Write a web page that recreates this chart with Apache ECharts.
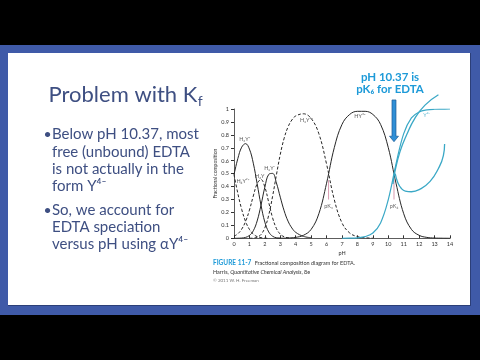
<!DOCTYPE html>
<html><head><meta charset="utf-8">
<script src="https://cdn.jsdelivr.net/npm/echarts@6/dist/echarts.min.js"></script>
<style>html,body{margin:0;padding:0;background:#000}#c{width:480px;height:360px}</style>
</head><body><div id="c"></div>
<script>
// pH grid
const pH = [0,0.25,0.5,0.75,1,1.25,1.5,1.75,2,2.25,2.5,2.75,3,3.25,3.5,3.75,4,4.5,5,5.5,6,6.5,7,7.5,8,8.5,9,9.5,10,10.5,11,11.5,12,12.5,13,13.5,14];
const N = null;
// fractional composition of each EDTA species
const H6Y = [0.492,0.347,0.223,0.130,0.069,0.033,0.013,0.005,0.001,0.0003,N,N,N,N,N,N,N,N,N,N,N,N,N,N,N,N,N,N,N,N,N,N,N,N,N,N,N];
const H5Y = [0.492,0.617,0.705,0.732,0.690,0.581,0.422,0.256,0.125,0.049,0.016,0.004,0.001,N,N,N,N,N,N,N,N,N,N,N,N,N,N,N,N,N,N,N,N,N,N,N,N];
const H4Y = [0.016,0.035,0.071,0.130,0.218,0.327,0.422,0.455,0.396,0.278,0.159,0.076,0.032,0.012,0.004,0.001,N,N,N,N,N,N,N,N,N,N,N,N,N,N,N,N,N,N,N,N,N];
const H3Y = [0.0002,0.0006,0.002,0.007,0.022,0.058,0.134,0.256,0.396,0.494,0.502,0.428,0.318,0.213,0.133,0.080,0.046,0.015,0.0045,N,N,N,N,N,N,N,N,N,N,N,N,N,N,N,N,N,N];
const H2Y = [N,N,N,N,0.0005,0.002,0.009,0.029,0.081,0.179,0.324,0.491,0.649,0.774,0.861,0.915,0.946,0.963,0.927,0.809,0.574,0.299,0.119,0.041,0.013,0.004,0.001,N,N,N,N,N,N,N,N,N,N];
const HY  = [N,N,N,N,N,N,N,N,N,N,N,0.0002,0.0005,0.001,0.002,0.004,0.007,0.023,0.069,0.190,0.426,0.701,0.881,0.958,0.982,0.982,0.958,0.881,0.701,0.426,0.190,0.069,0.023,0.007,0.002,0.0007,0.0002];
const Y4  = [N,N,N,N,N,N,N,N,N,N,N,N,N,N,N,N,N,N,N,N,N,N,0.0004,0.0013,0.004,0.013,0.041,0.119,0.299,0.574,0.810,0.931,0.977,0.993,0.998,0.999,1.0];
// hand-drawn ink strokes on the slide (pH, fraction)
const inkA_x = [10.3,10.43,10.76,11.19,11.73,12.38,13.25];
const inkA_y = [0.42,0.515,0.67,0.80,0.93,1.03,1.11];
const inkB_x = [10.45,10.62,10.85,11.1,11.5,12.06,12.71,13.25,13.57,13.65];
const inkB_y = [0.50,0.43,0.385,0.365,0.36,0.38,0.44,0.54,0.64,0.73];
// pK markers
const pKvals = [6.13, 10.37];
const pKnames = ['pK₅','pK₆'];
const speciesNames = ['H₆Y²⁺','H₅Y⁺','H₄Y','H₃Y⁻','H₂Y²⁻','HY³⁻','Y⁴⁻'];

const pts = a => pH.map((x,i)=>[x,a[i]]).filter(p=>p[1]!=null);
const zip = (xs,ys) => xs.map((x,i)=>[x,ys[i]]);

const BLK = '#262626', INK = '#3aa8c6', PINK = '#d79bb0';
const TXT = '#3e4f82', FONT = 'Lato, "Open Sans", sans-serif';

const chart = echarts.init(document.getElementById('c'));
const lineS = (data, color, dash, w) => ({type:'line', data, smooth:0.4, showSymbol:false, silent:true,
  lineStyle:{color, width:w||1, type: dash ? [3,2] : 'solid'}});

const series = [
  lineS(pts(H6Y), BLK, true),
  lineS(pts(H5Y), BLK, false),
  lineS(pts(H4Y), BLK, true),
  lineS(pts(H3Y), BLK, false),
  lineS(pts(H2Y), BLK, true),
  lineS(pts(HY), BLK, false),
  lineS(pts(Y4), INK, false, 1.2),
];
pKvals.forEach(v => series.push({type:'line', data:[[v,0.45],[v,0.30]], showSymbol:false, silent:true, lineStyle:{color:PINK,width:1}}));
series.push({type:'scatter', symbolSize:0, silent:true,
  data: pKvals.map((v,i)=>[v,0.245,pKnames[i]]),
  label:{show:true, position:'inside', formatter:p=>p.data[2], fontSize:5.5, color:'#444', fontFamily:FONT}});
const labelPos = [[0.58,0.445],[0.7,0.77],[1.67,0.48],[2.32,0.545],[4.7,0.91],[8.16,0.946],[12.5,0.955]];
series.push({type:'scatter', symbolSize:0, silent:true,
  data: speciesNames.map((n,i)=>({value:[labelPos[i][0],labelPos[i][1],n], label:{color: i===6?INK:'#333'}})),
  label:{show:true, position:'inside', formatter:p=>p.data.value[2], fontSize:5.5, fontFamily:FONT}});
series.push({type:'line', data: zip(inkA_x,inkA_y), smooth:0.5, showSymbol:false, silent:true, clip:false, lineStyle:{color:INK,width:1.3}});
series.push({type:'line', data: zip(inkB_x,inkB_y), smooth:0.5, showSymbol:false, silent:true, clip:false, lineStyle:{color:INK,width:1.3}});

const graphic = [
  {type:'rect', z:-10, shape:{x:0,y:45,width:480,height:270}, style:{fill:'#3f5aa8'}},
  {type:'rect', z:-9, shape:{x:8,y:53,width:463,height:253}, style:{fill:'#2c3f78'}},
  {type:'rect', z:-8, shape:{x:8,y:53,width:462,height:252}, style:{fill:'#ffffff'}},
  {type:'text', x:48.5, y:95, style:{text:'Problem with K', font:'22px '+FONT, fill:TXT, verticalAlign:'middle'}},
];
const bullets = [
  [134,'Below pH 10.37, most',true],[151.7,'free (unbound) EDTA'],[169,'is not actually in the'],[186,'form Y⁴⁻'],
  [210,'So, we account for',true],[226.7,'EDTA speciation'],[244.3,'versus pH using αY⁴⁻']
];
bullets.forEach(b => {
  if (b[2]) graphic.push({type:'text', x:43.5, y:b[0], style:{text:'•', font:'14px '+FONT, fill:TXT, verticalAlign:'middle'}});
  graphic.push({type:'text', x:52, y:b[0], style:{text:b[1], font:'15px '+FONT, fill:TXT, verticalAlign:'middle'}});
});
graphic.push({type:'text', x:390, y:77.7, style:{text:'pH 10.37 is', font:'bold 11.5px '+FONT, fill:'#1d9ad8', align:'center', verticalAlign:'middle'}});
graphic.push({type:'text', x:390, y:89.3, style:{text:'pK₆ for EDTA', font:'bold 11.5px '+FONT, fill:'#1d9ad8', align:'center', verticalAlign:'middle'}});
graphic.push({type:'text', x:213, y:263, style:{text:'{a|FIGURE 11-7} {b|Fractional composition diagram for EDTA.}', verticalAlign:'middle',
  rich:{a:{font:'bold 6.5px '+FONT, fill:'#1d9ad8'}, b:{font:'5.5px '+FONT, fill:'#333'}}}});
graphic.push({type:'text', x:213, y:272.7, style:{text:'{b|Harris, }{i|Quantitative Chemical Analysis}{b|, 8e}', verticalAlign:'middle',
  rich:{i:{font:'italic 5.5px '+FONT, fill:'#333'}, b:{font:'5.5px '+FONT, fill:'#333'}}}});
graphic.push({type:'text', x:213, y:280.5, style:{text:'© 2011 W. H. Freeman', font:'4.5px '+FONT, fill:'#777', verticalAlign:'middle'}});

chart.setOption({
  backgroundColor:'#000',
  animation:false,
  grid:{left:234, top:109, width:216, height:129.3},
  xAxis:{type:'value', min:0, max:14, interval:1, name:'pH', nameLocation:'middle', nameGap:12,
    nameTextStyle:{fontSize:5.5, color:'#333', fontFamily:FONT},
    axisLine:{lineStyle:{color:'#333', width:0.8}}, axisTick:{inside:true, length:3, lineStyle:{color:'#333'}},
    axisLabel:{fontSize:5.5, color:'#333', margin:3, fontFamily:FONT}, splitLine:{show:false}},
  yAxis:{type:'value', min:0, max:1, interval:0.1, name:'Fractional composition', nameLocation:'middle', nameGap:13, nameRotate:90,
    nameTextStyle:{fontSize:5, color:'#333', fontFamily:FONT},
    axisLine:{show:true, lineStyle:{color:'#333', width:0.8}}, axisTick:{show:true, length:3, lineStyle:{color:'#333'}},
    axisLabel:{fontSize:5.5, color:'#333', margin:5, fontFamily:FONT, formatter:v=> (v===0?'0':v===1?'1':v.toFixed(1))}, splitLine:{show:false}},
  series, graphic
});

// subscript f of K_f, placed after measured title width
const ctx2 = document.createElement('canvas').getContext('2d');
ctx2.font = '22px ' + FONT;
const tw = ctx2.measureText('Problem with K').width;
// arrow pointing at pK6
const aTop = chart.convertToPixel({gridIndex:0}, [pKvals[1], 1.07]);
const aTip = chart.convertToPixel({gridIndex:0}, [pKvals[1], 0.747]);
const ax = aTop[0], hw = 2, hh = 4.5, hl = 5.5;
chart.setOption({graphic: graphic.concat([
  {type:'text', x:48.5+tw+0.5, y:101.5, style:{text:'f', font:'14px '+FONT, fill:TXT, verticalAlign:'middle'}},
  {type:'polygon', shape:{points:[[ax-hw,aTop[1]],[ax+hw,aTop[1]],[ax+hw,aTip[1]-hl],[ax+hh,aTip[1]-hl],[ax,aTip[1]],[ax-hh,aTip[1]-hl],[ax-hw,aTip[1]-hl]]},
   style:{fill:'#2f8fd6', stroke:'#1e5a94', lineWidth:0.7}, z:10}
])}, {replaceMerge:['graphic']});
</script></body></html>
